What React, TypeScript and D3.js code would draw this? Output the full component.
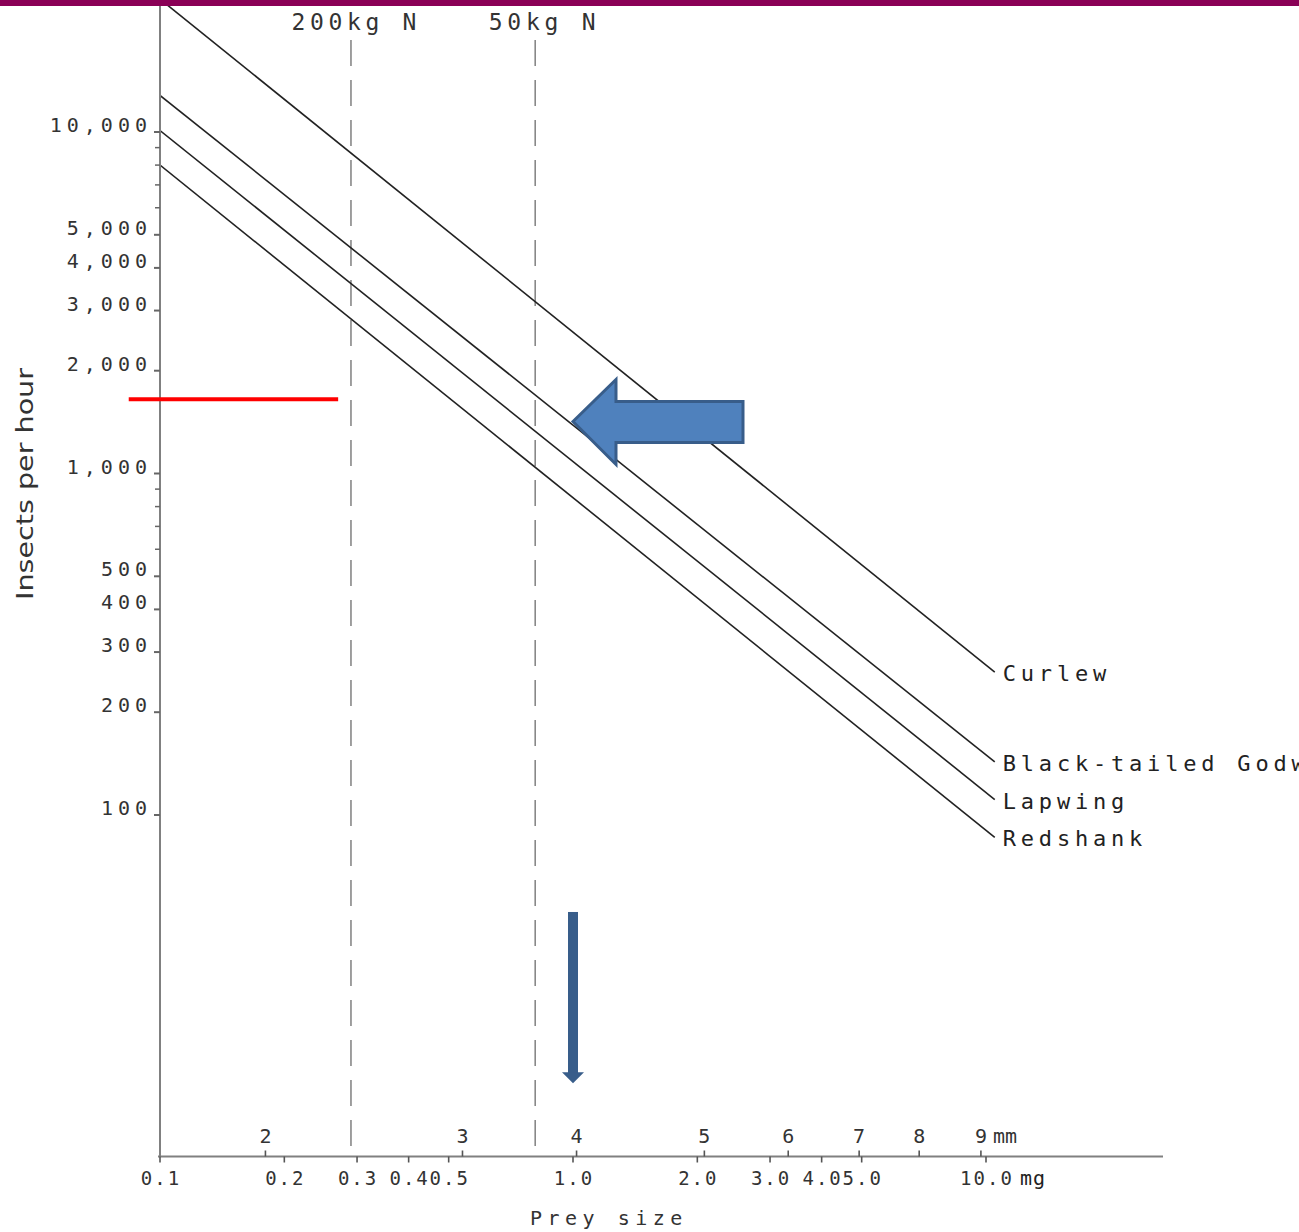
import React from "react";
import * as d3 from "d3";

const W = 1299;
const H = 1232;

// Series: straight lines on log-log axes (prey mass in mg vs insects per hour)
const speciesNames = ["Curlew", "Black-tailed Godwit", "Lapwing", "Redshank"];
const preyStartMg = 0.1;
const preyEndMg = 10.5;
const insectsAtStart = [24500, 12800, 10100, 8000];
const insectsAtEnd = [262, 143, 111, 86];

// Axes
const yTickValues = [10000, 5000, 4000, 3000, 2000, 1000, 500, 400, 300, 200, 100];
const yMinorTicks = [9000, 8000, 7000, 6000, 900, 800, 700, 600];
const mgTickValues = [0.1, 0.2, 0.3, 0.4, 0.5, 1.0, 2.0, 3.0, 4.0, 5.0, 10.0];
const mmTickLabels = [2, 3, 4, 5, 6, 7, 8, 9];
const mmTickMg = [0.18, 0.54, 1.02, 2.08, 3.32, 4.93, 6.89, 9.72];

// Fertiliser reference lines
const fertiliserLabels = ["200kg N", "50kg N"];
const fertiliserMg = [0.29, 0.81];

// Annotations
const redLineInsects = 1650;
const redLineMg = [0.084, 0.27];
const leftArrowTip = { mg: 1.0, insects: 1420 };
const downArrow = { mg: 1.0, fromInsects: 52, toInsects: 16.4 };

const mono = "'DejaVu Sans Mono', monospace";

export default function App() {
  const x = d3.scaleLog().domain([0.1, 10]).range([160, 986]);
  const y = d3.scaleLog().domain([100, 10000]).range([815, 132]);
  const axisX = x(0.1);
  const axisY = y(10);
  const fmt = d3.format(",");
  const fmtMg = d3.format(".1f");
  const line = d3
    .line<[number, number]>()
    .x((d) => x(d[0]))
    .y((d) => y(d[1]));

  const tx = x(leftArrowTip.mg);
  const ty = y(leftArrowTip.insects);
  const arrowPath = `M${tx},${ty} L${tx + 43},${ty - 42} L${tx + 43},${ty - 20} L${tx + 170},${ty - 20} L${tx + 170},${ty + 21} L${tx + 43},${ty + 21} L${tx + 43},${ty + 43} Z`;

  const dax = x(downArrow.mg);
  const day0 = y(downArrow.fromInsects);
  const day1 = y(downArrow.toInsects);

  return (
    <svg
      width={W}
      height={H}
      style={{ position: "absolute", left: 0, top: 0, background: "#fff", display: "block" }}
    >
      <defs>
        <clipPath id="plot">
          <rect x={axisX} y={6} width={W - axisX} height={axisY - 6} />
        </clipPath>
        <linearGradient id="edge" x1="0" y1="0" x2="0" y2="1">
          <stop offset="0" stopColor="#8ab8ec" />
          <stop offset="0.35" stopColor="#7aa8d0" />
          <stop offset="0.55" stopColor="#5a8a3a" />
          <stop offset="1" stopColor="#3aa03a" />
        </linearGradient>
      </defs>

      {/* fertiliser dashed verticals */}
      {fertiliserMg.map((m, i) => (
        <line
          key={"f" + i}
          x1={x(m)}
          x2={x(m)}
          y1={40}
          y2={axisY}
          stroke="#888"
          strokeWidth={1.6}
          strokeDasharray="26 14"
        />
      ))}
      {fertiliserLabels.map((t, i) => (
        <text
          key={"fl" + i}
          x={x(fertiliserMg[i]) + (i === 0 ? 3 : 7)}
          y={30}
          textAnchor="middle"
          fontFamily={mono}
          fontSize={23}
          fill="#333"
          textLength={i === 0 ? 125 : 107}
          lengthAdjust="spacing"
        >
          {t}
        </text>
      ))}

      {/* species lines */}
      <g clipPath="url(#plot)">
        {speciesNames.map((s, i) => (
          <path
            key={s}
            d={line([
              [preyStartMg, insectsAtStart[i]],
              [preyEndMg, insectsAtEnd[i]],
            ]) as string}
            fill="none"
            stroke="#222"
            strokeWidth={1.6}
          />
        ))}
      </g>
      {speciesNames.map((s, i) => (
        <text
          key={"l" + s}
          x={x(preyEndMg) + 8}
          y={y(insectsAtEnd[i]) + 9}
          fontFamily={mono}
          fontSize={22}
          letterSpacing={4.8}
          fill="#222"
        >
          {s}
        </text>
      ))}

      {/* y axis */}
      <line x1={axisX} x2={axisX} y1={6} y2={axisY} stroke="#808080" strokeWidth={2} />
      {yTickValues.map((v) => (
        <g key={"yt" + v}>
          <line x1={axisX - 6} x2={axisX} y1={y(v)} y2={y(v)} stroke="#666" strokeWidth={2} />
          <text
            x={152}
            y={y(v)}
            textAnchor="end"
            fontFamily={mono}
            fontSize={20}
            letterSpacing={5}
            fill="#333"
          >
            {fmt(v)}
          </text>
        </g>
      ))}
      {yMinorTicks.map((v) => (
        <line key={"ym" + v} x1={axisX - 5} x2={axisX} y1={y(v)} y2={y(v)} stroke="#666" strokeWidth={1.5} />
      ))}
      <text
        transform={`translate(33,484) rotate(-90)`}
        textAnchor="middle"
        fontFamily="'DejaVu Sans', sans-serif"
        fontSize={23}
        fill="#333"
        textLength={232}
        lengthAdjust="spacingAndGlyphs"
      >
        Insects per hour
      </text>

      {/* x axis */}
      <line x1={axisX - 2} x2={1163} y1={axisY} y2={axisY} stroke="#808080" strokeWidth={2} />
      {mgTickValues.map((v) => (
        <g key={"xt" + v}>
          <line x1={x(v)} x2={x(v)} y1={axisY} y2={axisY + 6} stroke="#555" strokeWidth={1.6} />
          <text
            x={x(v) + 1}
            y={1185}
            textAnchor="middle"
            fontFamily={mono}
            fontSize={19}
            letterSpacing={2}
            fill="#333"
          >
            {fmtMg(v)}
          </text>
        </g>
      ))}
      <text x={x(10) + 34} y={1185} fontFamily={mono} fontSize={20} letterSpacing={1} fill="#222">
        mg
      </text>
      {mmTickLabels.map((m, i) => (
        <g key={"mm" + m}>
          <line x1={x(mmTickMg[i])} x2={x(mmTickMg[i])} y1={axisY - 6} y2={axisY} stroke="#555" strokeWidth={1.6} />
          <text
            x={x(mmTickMg[i])}
            y={1143}
            textAnchor="middle"
            fontFamily={mono}
            fontSize={20}
            fill="#333"
          >
            {m}
          </text>
        </g>
      ))}
      <text x={x(mmTickMg[mmTickMg.length - 1]) + 12} y={1143} fontFamily={mono} fontSize={20} fill="#333">
        mm
      </text>
      <text x={530} y={1225} fontFamily={mono} fontSize={20} letterSpacing={5.5} fill="#333">
        Prey size
      </text>

      {/* red reference line */}
      <line
        x1={x(redLineMg[0])}
        x2={x(redLineMg[1])}
        y1={y(redLineInsects)}
        y2={y(redLineInsects)}
        stroke="#ff0000"
        strokeWidth={4}
      />

      {/* block arrow */}
      <path d={arrowPath} fill="#4f81bd" stroke="#385d8a" strokeWidth={3} strokeLinejoin="miter" />

      {/* down arrow */}
      <rect x={dax - 5} y={day0} width={10} height={day1 - day0 - 10} fill="#385d8a" />
      <path d={`M${dax - 11},${day1 - 11} L${dax + 11},${day1 - 11} L${dax},${day1} Z`} fill="#385d8a" />

      {/* top band and right edge */}
      <rect x={0} y={0} width={W} height={6} fill="#8a0056" />
      <line x1={1297.5} x2={1297.5} y1={290} y2={1195} stroke="url(#edge)" strokeWidth={2} />
    </svg>
  );
}
